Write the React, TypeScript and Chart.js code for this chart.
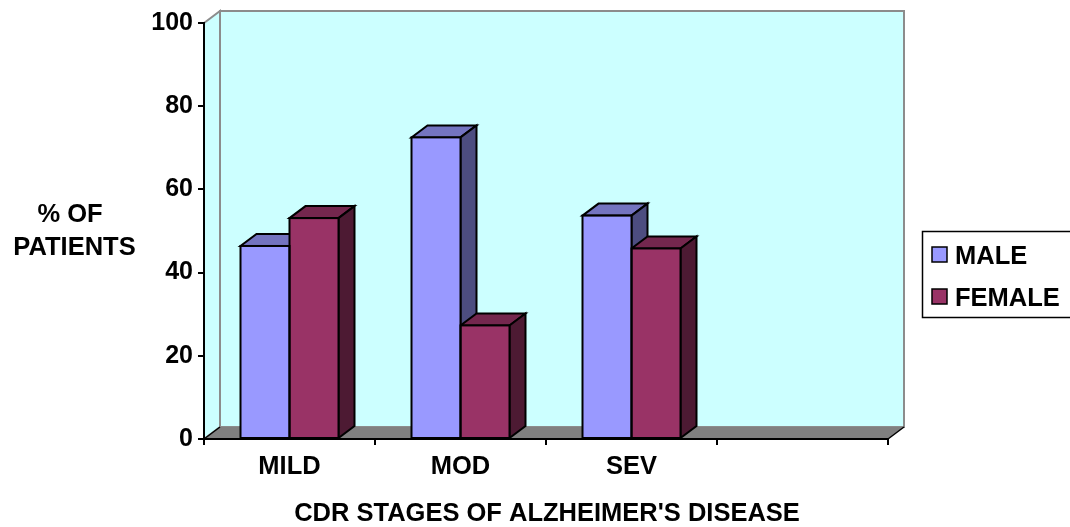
import React, { useEffect, useRef } from "react";
import { Chart, registerables } from "chart.js";

Chart.register(...registerables);

// Data
const stages = ["MILD", "MOD", "SEV", ""];
const maleValues = [46.4, 72.5, 53.7, null];
const femaleValues = [53.1, 27.3, 45.8, null];
const yTicks = [0, 20, 40, 60, 80, 100];
const seriesNames = ["MALE", "FEMALE"];
const yTitleLines = ["% OF", "PATIENTS"];
const xTitle = "CDR STAGES OF ALZHEIMER'S DISEASE";

// Face colours per series: front, top, side
const faceColors = [
  { front: "#9999FF", top: "#7474C0", side: "#4D4D80" },
  { front: "#993366", top: "#74274E", side: "#4D1A33" },
];

const FONT = '"Liberation Sans", Arial, Helvetica, sans-serif';
const DEPTH_X = 16;
const DEPTH_Y = 12;

const poly = (ctx: CanvasRenderingContext2D, pts: number[][]) => {
  ctx.beginPath();
  ctx.moveTo(pts[0][0], pts[0][1]);
  for (let i = 1; i < pts.length; i++) ctx.lineTo(pts[i][0], pts[i][1]);
  ctx.closePath();
};

// Geometry of a bar's front face, or null when the value is missing
const barRect = (chart: any, d: number, i: number) => {
  const v = chart.data.datasets[d].data[i];
  if (v == null) return null;
  const el = chart.getDatasetMeta(d).data[i];
  if (!el) return null;
  const { x, y, base, width } = el.getProps(["x", "y", "base", "width"], true);
  return { l: x - width / 2, r: x + width / 2, y, base };
};

const box3d = {
  id: "box3d",
  beforeDraw(chart: any) {
    const { ctx, chartArea } = chart;
    const { left: L, right: R, top: T, bottom: B } = chartArea;
    ctx.save();
    // side wall
    poly(ctx, [[L, T], [L + DEPTH_X, T - DEPTH_Y], [L + DEPTH_X, B - DEPTH_Y], [L, B]]);
    ctx.fillStyle = "#CCFFFF";
    ctx.fill();
    ctx.strokeStyle = "#8C8C8C";
    ctx.lineWidth = 2;
    ctx.stroke();
    // back wall
    ctx.fillStyle = "#CCFFFF";
    ctx.fillRect(L + DEPTH_X, T - DEPTH_Y, R - L, B - T);
    ctx.strokeRect(L + DEPTH_X, T - DEPTH_Y, R - L, B - T);
    // floor
    poly(ctx, [[L, B], [L + DEPTH_X, B - DEPTH_Y], [R + DEPTH_X, B - DEPTH_Y], [R, B]]);
    ctx.fillStyle = "#808080";
    ctx.fill();
    ctx.strokeStyle = "#000";
    ctx.lineWidth = 1.5;
    ctx.beginPath();
    ctx.moveTo(R, B);
    ctx.lineTo(R + DEPTH_X, B - DEPTH_Y);
    ctx.moveTo(L, B);
    ctx.lineTo(L + DEPTH_X, B - DEPTH_Y);
    ctx.stroke();
    ctx.restore();
  },
  beforeDatasetsDraw(chart: any) {
    const { ctx } = chart;
    ctx.save();
    ctx.strokeStyle = "#000";
    ctx.lineWidth = 2;
    const n = chart.data.labels.length;
    for (let i = 0; i < n; i++) {
      chart.data.datasets.forEach((_: any, d: number) => {
        const b = barRect(chart, d, i);
        if (!b) return;
        const { l, r, y, base } = b;
        // top face
        poly(ctx, [[l, y], [r, y], [r + DEPTH_X, y - DEPTH_Y], [l + DEPTH_X, y - DEPTH_Y]]);
        ctx.fillStyle = faceColors[d].top;
        ctx.fill();
        ctx.stroke();
        // side face
        poly(ctx, [[r, y], [r + DEPTH_X, y - DEPTH_Y], [r + DEPTH_X, base - DEPTH_Y], [r, base]]);
        ctx.fillStyle = faceColors[d].side;
        ctx.fill();
        ctx.stroke();
      });
    }
    ctx.restore();
  },
  afterDatasetsDraw(chart: any) {
    const { ctx } = chart;
    ctx.save();
    ctx.strokeStyle = "#000";
    ctx.lineWidth = 2;
    const n = chart.data.labels.length;
    chart.data.datasets.forEach((_: any, d: number) => {
      for (let i = 0; i < n; i++) {
        const b = barRect(chart, d, i);
        if (!b) continue;
        ctx.strokeRect(b.l, b.y, b.r - b.l, b.base - b.y);
      }
    });
    ctx.restore();
  },
  afterDraw(chart: any) {
    const { ctx } = chart;
    ctx.save();
    ctx.fillStyle = "#000";
    ctx.font = `bold 25.5px ${FONT}`;
    ctx.textBaseline = "alphabetic";
    ctx.textAlign = "center";
    // y title
    ctx.fillText(yTitleLines[0], 70, 222);
    ctx.fillText(yTitleLines[1], 74.5, 255);
    // x title
    ctx.fillText(xTitle, 547, 521);
    // legend
    ctx.lineWidth = 1.5;
    ctx.strokeStyle = "#000";
    ctx.strokeRect(922.5, 231.5, 200, 86);
    ctx.textAlign = "left";
    const rows = [255, 297];
    chart.data.datasets.forEach((ds: any, d: number) => {
      const cy = rows[d];
      ctx.fillStyle = ds.backgroundColor;
      ctx.fillRect(932, cy - 8, 15, 15);
      ctx.strokeRect(932, cy - 8, 15, 15);
      ctx.fillStyle = "#000";
      ctx.fillText(ds.label, 955, cy + 9);
    });
    ctx.restore();
  },
};

export default function App() {
  const ref = useRef<HTMLCanvasElement>(null);
  useEffect(() => {
    if (!ref.current) return;
    const chart = new Chart(ref.current, {
      type: "bar",
      data: {
        labels: stages,
        datasets: [
          {
            label: seriesNames[0],
            data: maleValues,
            backgroundColor: faceColors[0].front,
            borderWidth: 0,
          },
          {
            label: seriesNames[1],
            data: femaleValues,
            backgroundColor: faceColors[1].front,
            borderWidth: 0,
          },
        ],
      },
      options: {
        responsive: false,
        animation: false,
        events: [],
        layout: { padding: { left: 0, top: 23, right: 182, bottom: 0 } },
        datasets: { bar: { categoryPercentage: 98 / 171, barPercentage: 1 } },
        plugins: { legend: { display: false }, tooltip: { enabled: false } },
        scales: {
          x: {
            grid: {
              display: true,
              drawOnChartArea: false,
              drawTicks: true,
              tickLength: 6,
              color: "#000",
              lineWidth: 2,
            },
            border: { display: true, color: "#000", width: 2 },
            ticks: {
              color: "#000",
              padding: 7,
              font: { family: FONT, size: 25.5, weight: "bold" },
              maxRotation: 0,
              autoSkip: false,
            },
            afterFit: (s: any) => {
              s.height = 88;
            },
          },
          y: {
            min: yTicks[0],
            max: yTicks[yTicks.length - 1],
            afterBuildTicks: (s: any) => {
              s.ticks = yTicks.map((v) => ({ value: v }));
            },
            grid: {
              display: true,
              drawOnChartArea: false,
              drawTicks: true,
              tickLength: 6,
              color: "#000",
              lineWidth: 2,
            },
            border: { display: true, color: "#000", width: 2 },
            ticks: {
              color: "#000",
              padding: 5,
              font: { family: FONT, size: 25, weight: "bold" },
            },
            afterFit: (s: any) => {
              s.width = 204;
            },
          },
        },
      },
      plugins: [box3d],
    });
    return () => chart.destroy();
  }, []);
  return (
    <div style={{ position: "absolute", left: 0, top: 0, width: 1070, height: 527, background: "#fff" }}>
      <canvas ref={ref} width={1070} height={527} />
    </div>
  );
}
